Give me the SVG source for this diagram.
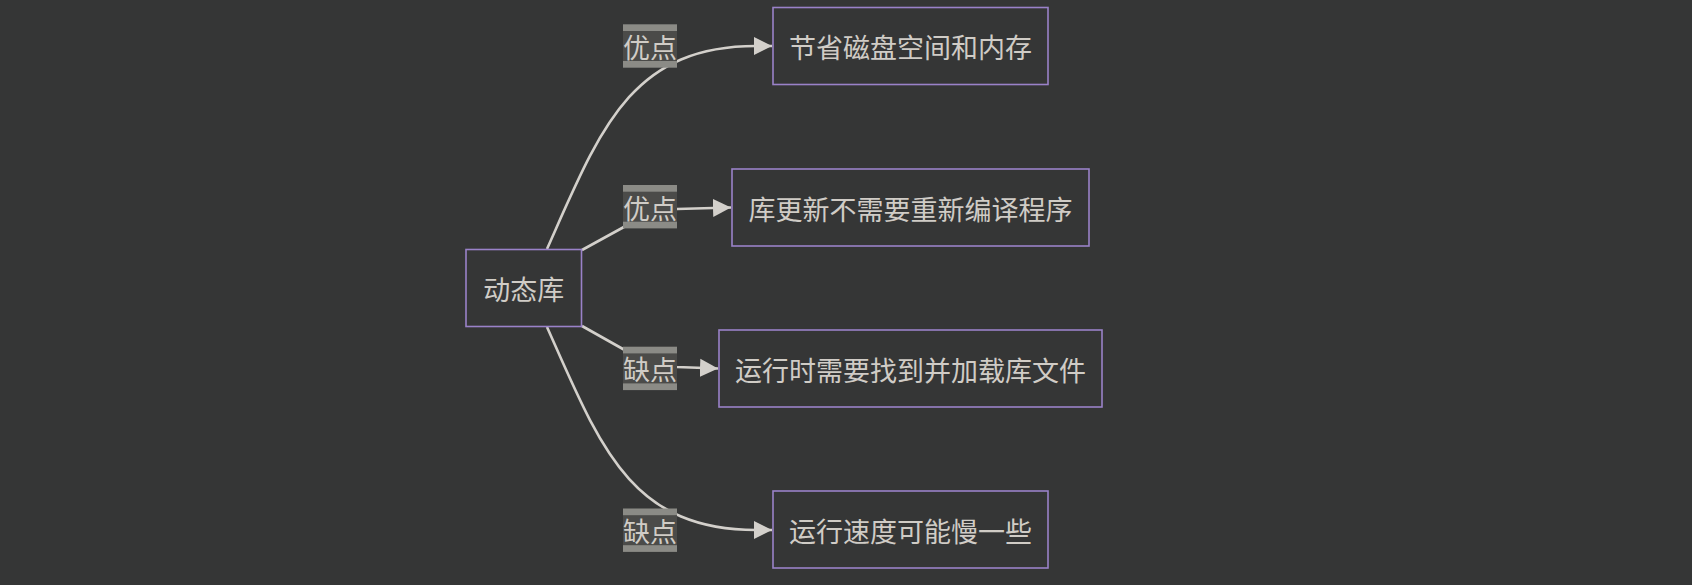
<svg xmlns="http://www.w3.org/2000/svg" width="1692" height="585" viewBox="0 0 1692 585">
<style>
.node rect{fill:#353636;stroke:#9a82c9;stroke-width:1.6}
.t{font-family:"Noto Sans CJK SC","Noto Sans",sans-serif;font-size:27px;fill:#d0ccc6;text-anchor:middle;dominant-baseline:central}
.edge{fill:none;stroke:#d3d0cb;stroke-width:2.6}
.lb{fill:#8b8b86}
.li{fill:#4b4b49}
</style>
<defs>
<marker id="arr" viewBox="0 0 10 10" refX="10" refY="5" markerWidth="18" markerHeight="19" markerUnits="userSpaceOnUse" orient="auto">
<path d="M0,0 L10,5 L0,10 z" fill="#d3d0cb"/>
</marker>
</defs>
<rect width="1692" height="585" fill="#353636"/>
<g id="connectors">
<path class="edge" d="M547,249 C600,130 630,46 756,46 L772,46" marker-end="url(#arr)"/>
<path class="edge" d="M582,250 L633,222 Q650,212 677,209 L731,207.5" marker-end="url(#arr)"/>
<path class="edge" d="M582,326 L630,353 Q650,364 677,367 L718,368.5" marker-end="url(#arr)"/>
<path class="edge" d="M547,327 C600,446 630,530 756,530 L772,530" marker-end="url(#arr)"/>
</g>
<g id="edge-labels">
<g id="label1"><rect class="lb" x="623" y="24.3" width="54" height="43.4"/><rect class="li" x="623" y="31" width="54" height="30"/><text class="t" x="650" y="46.5">优点</text></g>
<g id="label2"><rect class="lb" x="623" y="185" width="54" height="43.4"/><rect class="li" x="623" y="191.7" width="54" height="30"/><text class="t" x="650" y="207">优点</text></g>
<g id="label3"><rect class="lb" x="623" y="346.7" width="54" height="43.4"/><rect class="li" x="623" y="353.4" width="54" height="30"/><text class="t" x="650" y="368.7">缺点</text></g>
<g id="label4"><rect class="lb" x="623" y="508.5" width="54" height="43.4"/><rect class="li" x="623" y="515.2" width="54" height="30"/><text class="t" x="650" y="530.5">缺点</text></g>
</g>
<g id="n0" class="node"><rect x="466" y="249.5" width="115.5" height="77"/><text class="t" x="523.7" y="288.5">动态库</text></g>
<g id="n1" class="node"><rect x="773" y="7.5" width="275" height="77"/><text class="t" x="910.5" y="46.5">节省磁盘空间和内存</text></g>
<g id="n2" class="node"><rect x="732" y="169" width="357" height="77"/><text class="t" x="910.5" y="208">库更新不需要重新编译程序</text></g>
<g id="n3" class="node"><rect x="719" y="330" width="383" height="77"/><text class="t" x="910.5" y="369">运行时需要找到并加载库文件</text></g>
<g id="n4" class="node"><rect x="773" y="491" width="275" height="77"/><text class="t" x="910.5" y="530">运行速度可能慢一些</text></g>
</svg>
